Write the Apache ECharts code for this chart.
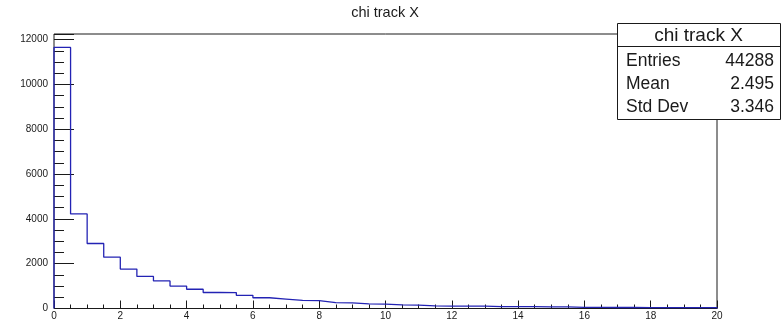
<!DOCTYPE html>
<html>
<head>
<meta charset="utf-8">
<script src="https://cdn.jsdelivr.net/npm/echarts@6/dist/echarts.min.js"></script>
<style>
  html, body { margin: 0; padding: 0; background: #fff; }
  #chart { width: 782px; height: 322px; }
</style>
</head>
<body>
<div id="chart"></div>
<script>
// Histogram of track chi values: 40 bins of width 0.5 over [0, 20]
const histTitle = 'chi track X';
const binLow = 0;
const binWidth = 0.5;
const chiCounts = [
  11650, 4220, 2900, 2290, 1760, 1430, 1230, 1000, 860, 715,
  710, 590, 480, 420, 360, 350, 265, 255, 205, 195,
  160, 155, 115, 110, 110, 105, 85, 80, 80, 75,
  70, 50, 50, 45, 45, 40, 40, 40, 35, 35
];
const xAxisRange = [0, 20];
const yAxisRange = [0, 12250];
const xMajorStep = 2;
const yMajorStep = 2000;
const yMinorStep = 500;

// Stats box entries
const statNames = ['Entries', 'Mean', 'Std Dev'];
const statValues = ['44288', '2.495', '3.346'];

// Outline of the histogram: start on the axis, step across each bin, close at the last edge
const outline = [[binLow, 0]];
chiCounts.forEach((c, i) => outline.push([binLow + i * binWidth, c]));
outline.push([binLow + chiCounts.length * binWidth, chiCounts[chiCounts.length - 1]]);
outline.push([binLow + chiCounts.length * binWidth, 0]);

const chart = echarts.init(document.getElementById('chart'), null, { renderer: 'canvas' });

const font = 'Liberation Sans, Arial, Helvetica, sans-serif';
const ink = '#1a1a1a';

const plotLeft = 54, plotRight = 65, plotTop = 34, plotBottom = 13.5;

const boxX = 617, boxY = 23, boxW = 163, boxH = 96, boxHeaderH = 23;
const graphics = [
  { type: 'rect', shape: { x: boxX + 0.5, y: boxY + 0.5, width: boxW, height: boxH },
    style: { fill: '#fff', stroke: ink, lineWidth: 1 }, z: 100 },
  { type: 'line', shape: { x1: boxX + 0.5, y1: boxY + boxHeaderH + 0.5, x2: boxX + boxW + 0.5, y2: boxY + boxHeaderH + 0.5 },
    style: { stroke: ink, lineWidth: 1 }, z: 101 },
  { type: 'text', x: boxX + boxW / 2, y: boxY + boxHeaderH / 2 + 1, z: 101,
    style: { text: histTitle, font: '19px ' + font, fill: ink, align: 'center', verticalAlign: 'middle' } },
  { type: 'text', x: 385, y: 13, z: 101,
    style: { text: histTitle, font: '14.5px ' + font, fill: ink, align: 'center', verticalAlign: 'middle' } }
];
const rowY = [61, 84.5, 107];
statNames.forEach((name, i) => {
  graphics.push({ type: 'text', x: 626, y: rowY[i], z: 101,
    style: { text: name, font: '17.5px ' + font, fill: ink, align: 'left', verticalAlign: 'middle' } });
  graphics.push({ type: 'text', x: 774, y: rowY[i], z: 101,
    style: { text: statValues[i], font: '17.5px ' + font, fill: ink, align: 'right', verticalAlign: 'middle' } });
});

const option = {
  animation: false,
  backgroundColor: '#fff',
  grid: {
    left: plotLeft, right: plotRight, top: plotTop, bottom: plotBottom,
    show: true, borderColor: ink, borderWidth: 1, backgroundColor: 'transparent'
  },
  xAxis: {
    type: 'value',
    min: xAxisRange[0], max: xAxisRange[1], interval: xMajorStep,
    axisLine: { show: false },
    splitLine: { show: false },
    axisTick: { show: true, inside: true, length: 8, lineStyle: { color: ink, width: 1 } },
    minorTick: { show: true, splitNumber: 4, length: 4, lineStyle: { color: ink, width: 1 } },
    axisLabel: { color: ink, fontSize: 10, fontFamily: font, margin: 3, showMinLabel: true, showMaxLabel: true }
  },
  yAxis: [
    {
      // major ticks with labels
      type: 'value', position: 'left', offset: 0,
      min: yAxisRange[0], max: yAxisRange[1], interval: yMajorStep,
      axisLine: { show: false },
      splitLine: { show: false },
      axisTick: { show: true, inside: true, length: 20, lineStyle: { color: ink, width: 1 } },
      axisLabel: {
        color: ink, fontSize: 10, fontFamily: font, margin: 6,
        formatter: v => (v % yMajorStep === 0 ? String(v) : '')
      }
    },
    {
      // minor ticks every 500
      type: 'value', position: 'left', offset: 0,
      min: yAxisRange[0], max: yAxisRange[1], interval: yMinorStep,
      axisLine: { show: false },
      splitLine: { show: false },
      axisTick: { show: true, inside: true, length: 10, lineStyle: { color: ink, width: 1 } },
      axisLabel: { show: false }
    }
  ],
  series: [{
    type: 'line',
    xAxisIndex: 0, yAxisIndex: 0,
    data: outline,
    step: 'end',
    showSymbol: false,
    symbol: 'none',
    lineStyle: { color: '#2323b4', width: 1.3 },
    clip: true,
    z: 5
  }],
  graphic: graphics
};

chart.setOption(option);
</script>
</body>
</html>
